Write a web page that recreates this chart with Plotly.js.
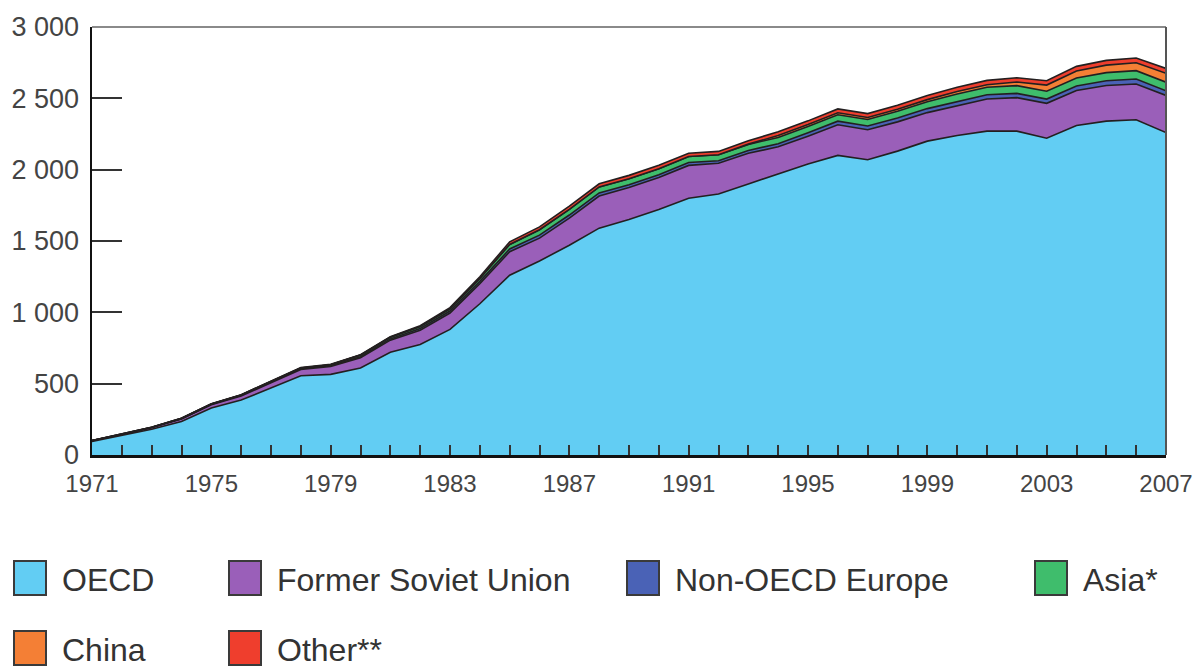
<!DOCTYPE html>
<html>
<head>
<meta charset="utf-8">
<script src="https://cdn.plot.ly/plotly-3.0.1.min.js"></script>
<style>
  html, body { margin: 0; padding: 0; background: #fff; }
  #chart { width: 1197px; height: 669px; }
</style>
</head>
<body>
<div id="chart"></div>
<script>
// ---- Data (TWh) ----
const years = [];
for (let y = 1971; y <= 2007; y++) years.push(y);

const seriesNames = ["OECD", "Former Soviet Union", "Non-OECD Europe", "Asia*", "China", "Other**"];

const oecd = [95,135,180,235,330,385,470,555,565,610,720,775,880,1060,1260,1360,1470,1590,1650,1720,1800,1830,1900,1970,2040,2100,2070,2130,2200,2240,2270,2270,2220,2310,2340,2350,2260];
const formerSovietUnion = [6,9,13,18,22,28,36,45,55,72,85,100,115,140,165,160,190,225,225,225,230,215,215,190,195,215,210,205,200,210,225,235,245,245,250,250,260];
const nonOecdEurope = [0,0,0,1,3,5,6,6,6,7,9,12,14,17,19,21,22,22,20,20,20,18,20,22,24,25,26,27,28,29,30,30,30,32,33,35,33];
const asia = [1,2,2,3,3,3,3,4,7,11,12,14,16,20,32,38,40,42,42,42,42,42,42,44,44,45,46,47,48,52,53,54,55,55,57,59,60];
const china = [0,0,0,0,0,0,0,0,0,0,0,0,0,0,0,0,0,0,0,0,0,0,2,13,13,14,14,14,15,17,17,25,43,50,53,55,62];
const other = [0,0,0,1,2,2,2,3,3,3,3,5,8,12,18,20,22,22,23,24,23,23,24,26,26,27,27,28,29,30,31,30,30,32,33,34,35];

const seriesValues = [oecd, formerSovietUnion, nonOecdEurope, asia, china, other];
const seriesColors = ["#62cdf3", "#9a5fb9", "#4a62b6", "#3fbd6c", "#f47f35", "#ef3e2d"];

// ---- Layout geometry (pixels) ----
const W = 1197, H = 669;
const M = { l: 92, r: 31, t: 27, b: 214 };
const plotW = W - M.l - M.r, plotH = H - M.t - M.b;
const px = x => (x - M.l) / plotW;
const py = y => (H - M.b - y) / plotH;

const traces = seriesValues.map((vals, i) => ({
  type: "scatter",
  mode: "lines",
  x: years,
  y: vals,
  name: seriesNames[i],
  stackgroup: "one",
  fillcolor: seriesColors[i],
  line: { color: "#231f20", width: 1.6 },
  hoverinfo: "x+y+name"
}));

// custom legend
const legendSlots = [
  { x: 14, y: 561 }, { x: 229, y: 561 }, { x: 627, y: 561 }, { x: 1035, y: 561 },
  { x: 14, y: 631 }, { x: 229, y: 631 }
];
const shapes = [];
const annotations = [];
const FONT = "'Liberation Sans', Arial, sans-serif";
seriesNames.forEach((n, i) => {
  const s = legendSlots[i];
  shapes.push({
    type: "rect", xref: "paper", yref: "paper",
    x0: px(s.x), x1: px(s.x + 32), y0: py(s.y + 34), y1: py(s.y),
    fillcolor: seriesColors[i], line: { color: "#3a3a3a", width: 2 }
  });
  annotations.push({
    xref: "paper", yref: "paper", x: px(s.x + 46), y: py(s.y + 19),
    xanchor: "left", yanchor: "middle", showarrow: false,
    text: n, font: { family: FONT, size: 32, color: "#333" }
  });
});
// top and right frame lines (grey)
shapes.push({ type: "line", xref: "paper", yref: "paper", x0: 0, x1: 1, y0: 1, y1: 1, line: { color: "#8a8a8a", width: 2 } });
shapes.push({ type: "line", xref: "paper", yref: "paper", x0: 1, x1: 1, y0: 0, y1: 1, line: { color: "#555", width: 2 } });

const TICKFONT = "'Liberation Sans', Arial, sans-serif";

const layout = {
  width: W, height: H,
  margin: M,
  paper_bgcolor: "#fff",
  plot_bgcolor: "#fff",
  showlegend: false,
  separators: ". ",
  xaxis: {
    range: [1971, 2007],
    tick0: 1971, dtick: 4,
    ticks: "inside", ticklen: 10, tickwidth: 2, tickcolor: "#333",
    minor: { dtick: 1, ticks: "inside", ticklen: 10, tickwidth: 2, tickcolor: "#333" },
    showgrid: false, zeroline: false,
    showline: true, linecolor: "#111", linewidth: 2.5,
    tickfont: { family: TICKFONT, size: 24, color: "#444" },
    ticklabelstandoff: 6,
    fixedrange: true
  },
  yaxis: {
    range: [0, 3000],
    dtick: 500, tickformat: ",d",
    ticks: "inside", ticklen: 30, tickwidth: 2, tickcolor: "#333",
    showgrid: false, zeroline: false,
    showline: true, linecolor: "#111", linewidth: 2.5,
    tickfont: { family: TICKFONT, size: 27, color: "#444" },
    ticklabelstandoff: 5,
    fixedrange: true
  },
  shapes: shapes,
  annotations: annotations
};

Plotly.newPlot("chart", traces, layout, { displayModeBar: false, staticPlot: true });
</script>
</body>
</html>
